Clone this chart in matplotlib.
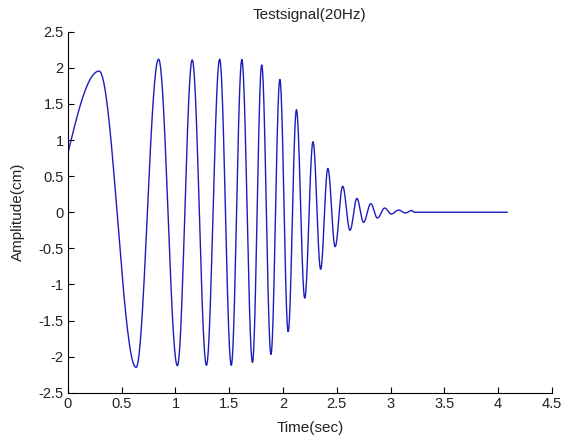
import numpy as np
import matplotlib.pyplot as plt

plt.rcParams['font.family'] = ['Liberation Sans', 'DejaVu Sans']

# Start point and turning points (peaks / troughs)
t_start, a_start = 0.0, 0.82
peak_t = [0.29, 0.634, 0.843, 1.018, 1.156, 1.288, 1.411, 1.519, 1.617, 1.716,
          1.802, 1.888, 1.971, 2.048, 2.125, 2.202, 2.279, 2.35, 2.417, 2.485,
          2.555, 2.623, 2.687, 2.749, 2.816, 2.878, 2.946, 3.007, 3.075, 3.137,
          3.198]
peak_a = [1.955, -2.15, 2.12, -2.126, 2.11, -2.12, 2.12, -2.12, 2.11, -2.08,
          2.04, -1.97, 1.84, -1.655, 1.415, -1.19, 0.977, -0.79, 0.607, -0.477,
          0.36, -0.25, 0.192, -0.14, 0.118, -0.08, 0.058, -0.025, 0.03, -0.01,
          0.025]
# flat tail
tail_t = [3.22, 4.084]
tail_a = [0.0, 0.0]

# build the trace: smooth half-waves joining the read turning points
ts, ys = [], []
s = np.linspace(0, 1, 40)
ts.append(t_start + (peak_t[0] - t_start) * s)
ys.append(a_start + (peak_a[0] - a_start) * np.sin(np.pi / 2 * s))
for i in range(len(peak_t) - 1):
    ts.append(peak_t[i] + (peak_t[i + 1] - peak_t[i]) * s)
    ys.append(peak_a[i] + (peak_a[i + 1] - peak_a[i]) * (1 - np.cos(np.pi * s)) / 2)
ts.append(np.array([peak_t[-1]] + tail_t))
ys.append(np.array([peak_a[-1]] + tail_a))
t = np.concatenate(ts)
y = np.concatenate(ys)

fig = plt.figure(figsize=(5.66, 4.41), dpi=100)
ax = fig.add_axes([0.120, 0.1095, 0.855, 0.8185])
ax.plot(t, y, color='#1c1cbc', linewidth=1.0)

ax.set_xlim(0, 4.5)
ax.set_ylim(-2.5, 2.5)
xt = np.arange(0, 4.51, 0.5)
yt = np.arange(-2.5, 2.51, 0.5)
ax.set_xticks(xt)
ax.set_xticklabels(['%g' % v for v in xt])
ax.set_yticks(yt)
ax.set_yticklabels(['%g' % v for v in yt])
ax.tick_params(direction='in', length=4, labelsize=10.5, pad=3, labelcolor='#222222')
ax.spines['top'].set_visible(False)
ax.spines['right'].set_visible(False)

ax.set_xlabel('Time(sec)', fontsize=11, labelpad=7, color='#222222')
ax.set_ylabel('Amplitude(cm)', fontsize=11, labelpad=10, color='#222222')
ax.set_title('Testsignal(20Hz)', fontsize=11, pad=9.5, color='#222222')

fig.savefig('out.png', dpi=100)
